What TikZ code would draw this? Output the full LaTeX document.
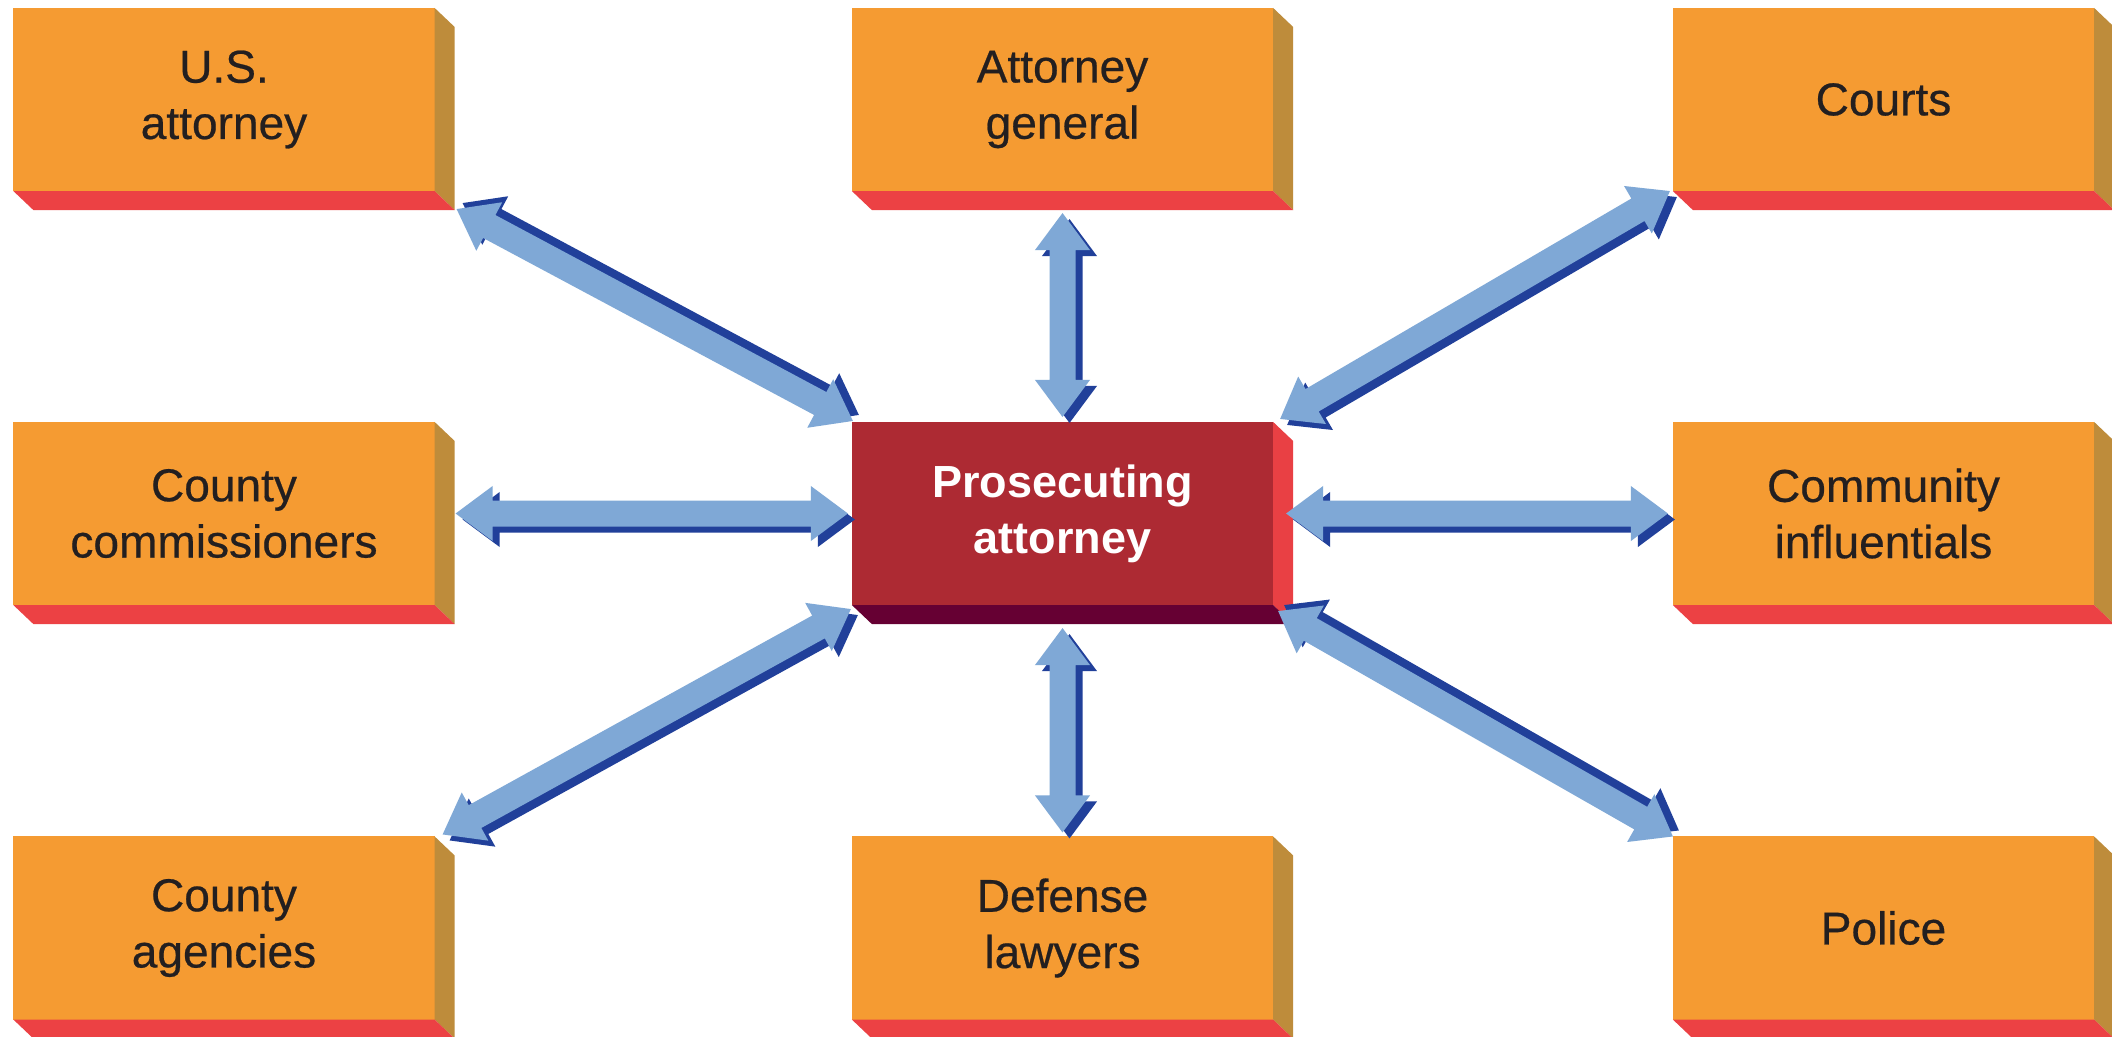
\documentclass[tikz,border=0pt]{standalone}
\usepackage{fontspec}
\setmainfont{Liberation Sans}
\newfontfamily\medfont[FakeBold=0.5]{Liberation Sans}
\usetikzlibrary{calc}
\definecolor{orf}{HTML}{F59B32}
\definecolor{ors}{HTML}{BE8C3B}
\definecolor{orb}{HTML}{EC4144}
\definecolor{rdf}{HTML}{AD2A33}
\definecolor{rds}{HTML}{E94044}
\definecolor{rdb}{HTML}{660033}
\definecolor{alight}{HTML}{7FA8D6}
\definecolor{adark}{HTML}{21409A}
\definecolor{txt}{HTML}{231F20}
\tikzset{
  face/.style={rectangle, inner sep=0pt, outer sep=0pt, minimum width=4.21cm,
    minimum height=1.83cm, align=center, font=\medfont\fontsize{13.1}{16}\selectfont,
    text=txt, fill=orf},
  mainface/.style={face, fill=rdf, text=white, font=\fontsize{12.8}{16}\selectfont\bfseries}
}
\newcommand\boxdepth[3]{%
  \fill[#2] (#1.north east) -- ++(20,19) -- ($(#1.south east)+(20,19)$) -- (#1.south east) -- cycle;
  \fill[#3] (#1.south west) -- (#1.south east) -- ++(20,19) -- ($(#1.south west)+(20,19)$) -- cycle;
}
\newcommand\twoway[4]{%
  \coordinate (h1) at ($(#1)!0.37cm!(#2)$);
  \coordinate (h2) at ($(#2)!0.37cm!(#1)$);
  \foreach \col/\dx/\dy in {adark/#3/#4, alight/0/0}{
    \fill[\col, transform canvas={shift={(\dx,\dy)}}]
      (#1) -- ($(h1)!0.275cm!90:(#2)$) -- ($(h1)!0.13cm!90:(#2)$)
      -- ($(h2)!0.13cm!-90:(#1)$) -- ($(h2)!0.275cm!-90:(#1)$) -- (#2)
      -- ($(h2)!0.275cm!90:(#1)$) -- ($(h2)!0.13cm!90:(#1)$)
      -- ($(h1)!0.13cm!-90:(#2)$) -- ($(h1)!0.275cm!-90:(#2)$) -- cycle;
  }
}
\begin{document}
\begin{tikzpicture}[x=0.01cm, y=-0.01cm]
\useasboundingbox (0,0) rectangle (2112,1036);
\clip (0,0) rectangle (2112,1036);
\fill[white] (0,0) rectangle (2112,1036);

\node[face] (usa) at (224,99.5) {U.S.\\attorney};
\node[face] (ag) at (1062.5,99.5) {Attorney\\general};
\node[face] (courts) at (1883.5,99.5) {Courts};
\node[face] (cc) at (224,513.5) {County\\commissioners};
\node[mainface] (pa) at (1062.5,513.5) {Prosecuting\\attorney};
\node[face] (ci) at (1883.5,513.5) {Community\\influentials};
\node[face] (ca) at (224,928) {County\\agencies};
\node[face] (dl) at (1062.5,928) {Defense\\lawyers};
\node[face] (police) at (1883.5,928) {Police};

\foreach \n in {usa,ag,courts,cc,ci,ca,dl,police}{\boxdepth{\n}{ors}{orb}}
\boxdepth{pa}{rds}{rdb}

\coordinate (a1) at ($(usa.south east)+(22,18)$);
\coordinate (b1) at ($(pa.north west)+(1,-1)$);
\coordinate (a2) at ($(ag.south)+(0,22)$);
\coordinate (b2) at ($(pa.north)+(0,-5)$);
\coordinate (a3) at ($(courts.south west)+(-3,0)$);
\coordinate (b3) at ($(pa.north east)+(7,-3)$);
\coordinate (a4) at ($(cc.east)+(21,0)$);
\coordinate (b4) at ($(pa.west)+(-4,0)$);
\coordinate (a5) at ($(pa.east)+(13,0)$);
\coordinate (b5) at ($(ci.west)+(-5,0)$);
\coordinate (a6) at ($(pa.south west)+(-1,4)$);
\coordinate (b6) at ($(ca.north east)+(8,-2)$);
\coordinate (a7) at ($(pa.south)+(0,23)$);
\coordinate (b7) at ($(dl.north)+(0,-4)$);
\coordinate (a8) at ($(pa.south east)+(5,6)$);
\coordinate (b8) at ($(police.north west)+(0,0)$);

\twoway{a1}{b1}{6}{-6}
\twoway{a2}{b2}{7}{6}
\twoway{a3}{b3}{7}{6}
\twoway{a4}{b4}{7}{6}
\twoway{a5}{b5}{7}{6}
\twoway{a6}{b6}{7}{6}
\twoway{a7}{b7}{7}{6}
\twoway{a8}{b8}{6}{-6}
\end{tikzpicture}
\end{document}
